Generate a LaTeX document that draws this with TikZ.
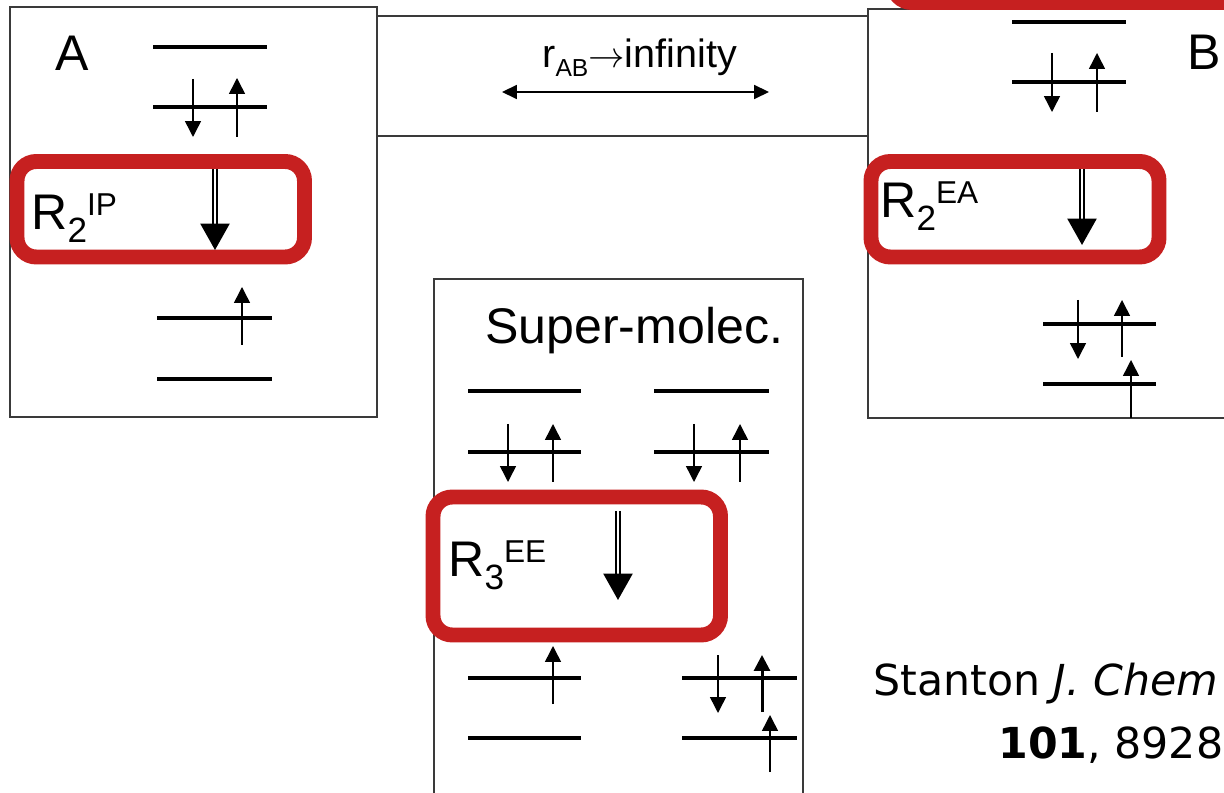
\documentclass[tikz,border=0pt]{standalone}
\usepackage{fontspec}
\setmainfont{Liberation Sans}
\newfontfamily\citefont{DejaVu Sans}
\usetikzlibrary{arrows.meta}
\definecolor{boxred}{HTML}{C62020}
\definecolor{framecol}{HTML}{3A3A3A}

% R with its two indices, set one after the other
\newcommand{\rlab}[3]{#1\raisebox{-7.4pt}{\fontsize{20}{20}\selectfont #2}\raisebox{8.5pt}{\fontsize{18}{18}\selectfont #3}}

\begin{document}
\begin{tikzpicture}[
    x=0.02cm, y=-0.02cm,
    frame/.style={draw=framecol, line width=0.7pt},
    redbox/.style={draw=boxred, line width=8.5pt, rounded corners=11pt},
    lvl/.style={line width=2.3pt},
    spin/.style={line width=0.85pt, -{Triangle[length=9pt, width=9pt]}},
    bigspin/.style={double, double distance=1.1pt, line width=1.3pt, -{Triangle[length=15pt, width=16.5pt]}},
    lab/.style={inner sep=0pt, anchor=base west, font=\fontsize{28.5}{34}\selectfont},
    small/.style={inner sep=0pt, anchor=base west, font=\fontsize{22.5}{27}\selectfont},
    cite/.style={inner sep=0pt, anchor=base west, font=\citefont\fontsize{24.3}{29}\selectfont},
]
\useasboundingbox (0,0) rectangle (1224,793);
\clip (0,0) rectangle (1224,793);

% the three frames and the stretch between A and B
\draw[frame] (10,7) rectangle (377,417);
\draw[frame] (868,9) rectangle (1260,418);
\draw[frame] (377,16) -- (868,16);
\draw[frame] (377,136) -- (868,136);
\draw[frame] (434,279) rectangle (803,830);

% highlighted rows
\draw[redbox] (17,161.5) rectangle (304.5,257);
\draw[redbox] (871,161.5) rectangle (1159,257);
\draw[redbox] (433,497) rectangle (720.5,635);
\draw[redbox] (892.5,-150) rectangle (1400,2.5);

% molecule A
\foreach \y in {47,107}
    \draw[lvl] (153,\y) -- (267,\y);
\foreach \y in {318,379}
    \draw[lvl] (157,\y) -- (272,\y);
\draw[spin] (193,79) -- (193,137);
\draw[spin] (237,137) -- (237,78);
\draw[spin] (242,345) -- (242,287);
\draw[bigspin] (215,169) -- (215,250);

% molecule B
\foreach \y in {22,82}
    \draw[lvl] (1012,\y) -- (1126,\y);
\foreach \y in {324,384}
    \draw[lvl] (1043,\y) -- (1156,\y);
\draw[spin] (1052,53) -- (1052,112);
\draw[spin] (1097,112) -- (1097,53);
\draw[bigspin] (1082,169) -- (1082,245);
\draw[spin] (1078,300) -- (1078,359);
\draw[spin] (1122,357) -- (1122,300);
\draw[spin] (1131,418) -- (1131,360);

% super-molecule, A on the left and B on the right
\foreach \y in {391,452}{
    \draw[lvl] (468,\y) -- (581,\y);
    \draw[lvl] (654,\y) -- (769,\y);
}
\draw[spin] (508,424) -- (508,482);
\draw[spin] (553,482) -- (553,424);
\draw[spin] (694,424) -- (694,482);
\draw[spin] (740,482) -- (740,424);
\draw[bigspin] (618,511) -- (618,600);
\foreach \y in {678,738}{
    \draw[lvl] (468,\y) -- (581,\y);
    \draw[lvl] (682,\y) -- (797,\y);
}
\draw[spin] (553,704) -- (553,646);
\draw[spin] (718,655) -- (718,713);
\draw[spin, line width=1.7pt] (762,712) -- (762,655);
\draw[spin] (770,772) -- (770,715);

% separation
\node[small] (dist) at (542,68) {r\raisebox{-5pt}{\fontsize{14}{14}\selectfont AB}$\rightarrow$infinity};
\coordinate (stretchL) at (502,92);
\coordinate (stretchR) at (769,92);
\draw[line width=0.85pt, {Triangle[length=8.5pt, width=8pt]}-{Triangle[length=8.5pt, width=8pt]}] (stretchL) -- (stretchR);

% labels
\node[lab] (labA) at (55,71) {A};
\node[lab] (labB) at (1187,70) {B};
\node[lab] (labSuper) at (485,344) {Super-molec.};
\node[lab] (rIP) at (31,230) {\rlab{R}{2}{IP}};
\node[lab] (rEA) at (880,218) {\rlab{R}{2}{EA}};
\node[lab] (rEE) at (448,577) {\rlab{R}{3}{EE}};

% reference
\node[cite] (citeA) at (873,695) {Stanton \textit{J. Chem}};
\node[cite] (citeB) at (998,758) {\textbf{101}, 8928};
\end{tikzpicture}
\end{document}
